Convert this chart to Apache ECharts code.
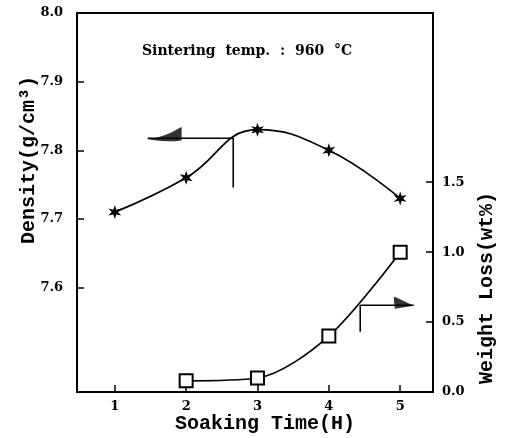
<!DOCTYPE html>
<html>
<head>
<meta charset="utf-8">
<script src="https://cdn.jsdelivr.net/npm/echarts@6/dist/echarts.min.js"></script>
<style>
  html, body { margin: 0; padding: 0; background: #fff; }
  #chart { width: 506px; height: 438px; }
</style>
</head>
<body>
<div id="chart"></div>
<script>
// 数据
const soakTime = [1, 2, 3, 4, 5];
const density = [7.71, 7.76, 7.83, 7.80, 7.73];
const lossTime = [2, 3, 4, 5];
const weightLoss = [0.08, 0.10, 0.40, 1.00];
const xTicks = [1, 2, 3, 4, 5];
const densityTicks = [7.6, 7.7, 7.8, 7.9, 8.0];
const lossTicks = [0.0, 0.5, 1.0, 1.5];
// 指示箭头 (数据坐标)
const densityArrow = [[1.46, 7.8175], [2.66, 7.8175], [2.66, 7.746]];
const lossArrow = [[5.19, 0.62], [4.44, 0.62], [4.44, 0.43]];

const chart = echarts.init(document.getElementById('chart'));

const labelFont = { color: '#000', fontFamily: 'DejaVu Serif', fontWeight: 'bold', fontSize: 13 };
const nameFont = { fill: '#000', fontFamily: 'Liberation Mono', fontSize: 20, fontWeight: 'bold' };

// 星号
const starPath = 'path://M0,-10 L-2,-3.5 L-8.66,-5 L-4,0 L-8.66,5 L-2,3.5 L0,10 L2,3.5 L8.66,5 L4,0 L8.66,-5 L2,-3.5 Z';
// 半箭头
const headLeft = 'path://M0,11 Q18,9 33,0 L34,0 L34,12 Q18,14 0,11 Z';
const headRight = 'path://M20,9 L1,0 L0,1 L1,12 Z';

const option = {
  animation: false,
  backgroundColor: '#fff',
  grid: {
    left: 77, right: 73, top: 13, bottom: 46,
    show: true, borderColor: '#000', borderWidth: 2
  },
  xAxis: {
    type: 'value', min: 0.47, max: 5.46,
    splitLine: { show: false },
    axisLine: { lineStyle: { color: '#000', width: 2 } },
    axisTick: { inside: true, length: 7, customValues: xTicks, lineStyle: { color: '#000', width: 1.5 } },
    axisLabel: Object.assign({ customValues: xTicks, margin: 8, formatter: v => String(v) }, labelFont)
  },
  yAxis: [{
    type: 'value', min: 7.448, max: 8.0,
    splitLine: { show: false },
    axisLine: { show: true, lineStyle: { color: '#000', width: 2 } },
    axisTick: { show: true, inside: true, length: 7, customValues: densityTicks, lineStyle: { color: '#000', width: 1.5 } },
    axisLabel: Object.assign({ customValues: densityTicks, margin: 14, formatter: v => v.toFixed(1) }, labelFont)
  }, {
    type: 'value', min: 0, max: 2.71, position: 'right',
    splitLine: { show: false },
    axisLine: { show: true, lineStyle: { color: '#000', width: 2 } },
    axisTick: { show: true, inside: true, length: 7, customValues: lossTicks, lineStyle: { color: '#000', width: 1.5 } },
    axisLabel: Object.assign({ customValues: lossTicks, margin: 9, formatter: v => v.toFixed(1) }, labelFont)
  }],
  graphic: [
    { type: 'text', left: 142, top: 44, style: { text: 'Sintering  temp.  :  960  °C', fill: '#000', fontFamily: 'DejaVu Serif', fontWeight: 'bold', fontSize: 14 } },
    { type: 'text', x: 29, y: 160, rotation: Math.PI / 2, style: Object.assign({ text: 'Density(g/cm³)', align: 'center', verticalAlign: 'middle' }, nameFont) },
    { type: 'text', x: 487, y: 288, rotation: Math.PI / 2, style: Object.assign({ text: 'Weight Loss(wt%)', align: 'center', verticalAlign: 'middle' }, nameFont) },
    { type: 'text', x: 265, y: 424, style: Object.assign({ text: 'Soaking Time(H)', align: 'center', verticalAlign: 'middle' }, nameFont) }
  ],
  series: [{
    name: 'Density', type: 'line', yAxisIndex: 0, smooth: 0.45,
    data: soakTime.map((t, i) => [t, density[i]]),
    symbol: starPath, symbolSize: [13, 14],
    itemStyle: { color: '#000' },
    lineStyle: { color: '#000', width: 1.7 }
  }, {
    name: 'Weight Loss', type: 'line', yAxisIndex: 1, smooth: 0.3,
    data: lossTime.map((t, i) => [t, weightLoss[i]]),
    symbol: 'rect', symbolSize: 13,
    itemStyle: { color: '#fff', borderColor: '#000', borderWidth: 2 },
    lineStyle: { color: '#000', width: 1.7 }
  }, {
    type: 'line', yAxisIndex: 0, data: densityArrow, symbol: 'none',
    lineStyle: { color: '#000', width: 1.6 }, z: 1
  }, {
    type: 'line', yAxisIndex: 1, data: lossArrow, symbol: 'none',
    lineStyle: { color: '#000', width: 1.6 }, z: 1
  }, {
    type: 'scatter', yAxisIndex: 0, data: [densityArrow[0]],
    symbol: headLeft, symbolSize: [34, 14], symbolOffset: [17, -4],
    itemStyle: { color: '#000' }
  }, {
    type: 'scatter', yAxisIndex: 1, data: [lossArrow[0]],
    symbol: headRight, symbolSize: [20, 12], symbolOffset: [-10, -2.5],
    itemStyle: { color: '#000' }
  }]
};

chart.setOption(option);
</script>
</body>
</html>
